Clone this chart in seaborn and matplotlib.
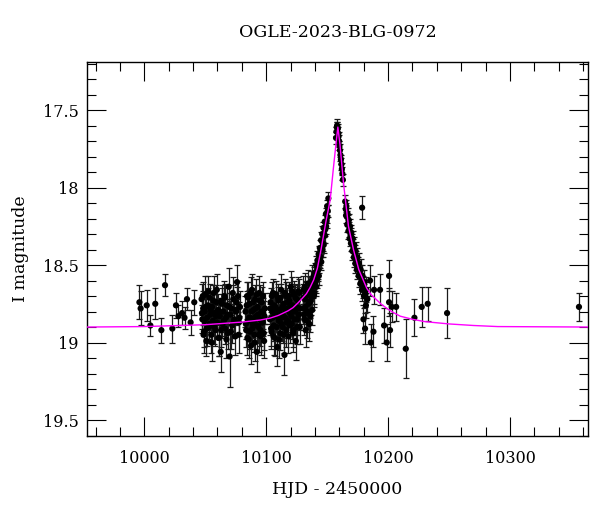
import numpy as np
import pandas as pd
import matplotlib
matplotlib.use("Agg")
import matplotlib.pyplot as plt
import seaborn as sns

title = "OGLE-2023-BLG-0972"
xlabel = "HJD - 2450000"
ylabel = "I magnitude"
xticks = [10000, 10100, 10200, 10300]
yticks = [17.5, 18.0, 18.5, 19.0, 19.5]
ytick_labels = ["17.5", "18", "18.5", "19", "19.5"]

# early sparse baseline
x_early = [9996.0, 9997.0, 10002.0, 10005.0, 10009.0, 10014.0, 10017.0, 10023.0,
           10026.0, 10028.0, 10031.0, 10033.0, 10035.0, 10038.0, 10041.0]
m_early = [18.74, 18.78, 18.76, 18.89, 18.75, 18.92, 18.63, 18.91,
           18.76, 18.83, 18.81, 18.84, 18.72, 18.87, 18.74]
e_early = [0.11, 0.11, 0.10, 0.07, 0.10, 0.08, 0.07, 0.09,
           0.08, 0.07, 0.08, 0.07, 0.07, 0.08, 0.08]

# dense baseline cluster A
x_a = [10047.0, 10047.6, 10048.3, 10048.9, 10049.6, 10050.2, 10050.9, 10051.5, 10052.2, 10052.9,
       10053.6, 10054.2, 10054.9, 10055.6, 10056.3, 10057.0, 10057.7, 10058.4, 10059.1, 10059.8,
       10060.5, 10061.2, 10062.0, 10062.7, 10063.4, 10064.1, 10064.8, 10065.6, 10066.3, 10067.0,
       10067.8, 10068.5, 10069.3, 10070.0, 10070.7, 10071.5, 10072.2, 10073.0, 10073.8, 10074.5,
       10075.3, 10076.1, 10076.9, 10077.7, 10078.5,
       10047.3, 10048.0, 10048.6, 10049.3, 10050.5, 10051.2, 10052.5, 10053.3, 10054.5, 10055.3,
       10056.7, 10057.4, 10058.8, 10059.5, 10060.9, 10061.6, 10063.0, 10063.8, 10065.2, 10066.0,
       10067.4, 10068.2, 10069.7, 10071.1, 10072.6, 10073.4, 10074.9, 10075.7, 10077.3, 10078.1]
m_a = [18.72, 18.85, 18.78, 18.93, 18.80, 18.69, 18.99, 18.84, 18.76, 18.90,
       18.71, 18.82, 18.95, 18.77, 18.86, 18.68, 18.81, 18.92, 18.74, 18.87,
       18.79, 18.97, 18.83, 19.06, 18.73, 18.88, 18.80, 18.70, 18.91, 18.84,
       18.76, 18.94, 18.64, 19.09, 18.82, 18.78, 18.89, 18.72, 18.85, 18.96,
       18.80, 18.61, 18.70, 18.87, 18.77,
       18.81, 18.70, 18.95, 18.86, 18.77, 18.91, 18.67, 18.88, 18.79, 19.00,
       18.73, 18.90, 18.83, 18.66, 18.97, 18.80, 18.92, 18.75, 18.86, 18.71,
       18.98, 18.82, 18.77, 18.93, 18.68, 18.87, 18.79, 18.74, 18.95, 18.84]
e_a = [0.10, 0.09, 0.11, 0.10, 0.08, 0.12, 0.10, 0.09, 0.11, 0.10,
       0.09, 0.10, 0.12, 0.08, 0.10, 0.11, 0.09, 0.10, 0.11, 0.09,
       0.10, 0.12, 0.09, 0.13, 0.10, 0.09, 0.11, 0.10, 0.10, 0.09,
       0.11, 0.10, 0.12, 0.20, 0.09, 0.10, 0.11, 0.09, 0.10, 0.12,
       0.09, 0.11, 0.10, 0.09, 0.10,
       0.10, 0.09, 0.12, 0.10, 0.09, 0.11, 0.10, 0.10, 0.09, 0.12,
       0.10, 0.11, 0.09, 0.10, 0.12, 0.09, 0.11, 0.10, 0.10, 0.09,
       0.12, 0.10, 0.09, 0.11, 0.10, 0.10, 0.09, 0.10, 0.12, 0.10]

# cluster B
x_b = [10083.0, 10083.6, 10084.3, 10085.0, 10085.6, 10086.3, 10087.0, 10087.6, 10088.3, 10089.0,
       10089.6, 10090.3, 10091.0, 10091.6, 10092.3, 10093.0, 10093.6, 10094.3, 10095.0, 10095.6,
       10096.3, 10097.0, 10097.6, 10098.3, 10099.0,
       10083.3, 10084.0, 10084.6, 10085.3, 10086.0, 10086.6, 10087.3, 10088.0, 10088.6, 10089.3,
       10090.0, 10090.6, 10091.3, 10092.0, 10092.6, 10093.3, 10094.0, 10094.6, 10095.3, 10096.0,
       10096.6, 10097.3, 10098.0, 10098.6]
m_b = [18.80, 18.92, 18.70, 18.86, 18.98, 18.75, 18.84, 19.02, 18.66, 18.88,
       18.79, 18.95, 18.72, 18.83, 19.06, 18.77, 18.90, 18.68, 18.85, 18.96,
       18.74, 18.87, 18.81, 18.99, 18.78,
       18.88, 18.76, 18.97, 18.71, 18.84, 18.93, 18.68, 18.80, 18.91, 18.74,
       18.86, 19.00, 18.78, 18.69, 18.89, 18.82, 18.95, 18.73, 18.92, 18.80,
       18.87, 18.70, 18.94, 18.83]
e_b = [0.10, 0.11, 0.09, 0.10, 0.12, 0.09, 0.10, 0.12, 0.10, 0.09,
       0.10, 0.11, 0.09, 0.10, 0.13, 0.09, 0.10, 0.11, 0.09, 0.12,
       0.10, 0.09, 0.10, 0.11, 0.10,
       0.10, 0.09, 0.11, 0.10, 0.09, 0.11, 0.10, 0.09, 0.10, 0.09,
       0.10, 0.12, 0.09, 0.10, 0.11, 0.09, 0.11, 0.10, 0.10, 0.09,
       0.10, 0.09, 0.11, 0.10]

# cluster C
x_c = [10103.0, 10103.6, 10104.3, 10105.0, 10105.6, 10106.3, 10107.0, 10107.6, 10108.3, 10109.0,
       10109.6, 10110.3, 10111.0, 10111.6, 10112.3, 10113.0, 10113.6, 10114.3, 10115.0, 10115.6,
       10116.3, 10117.0, 10117.6, 10118.3, 10119.0, 10119.6, 10120.3, 10121.0, 10121.6, 10122.3,
       10123.0, 10123.6, 10124.3, 10125.0, 10125.6, 10126.3, 10127.0, 10127.6,
       10103.3, 10104.0, 10104.6, 10105.3, 10106.0, 10106.6, 10107.3, 10108.0, 10108.6, 10109.3,
       10110.0, 10110.6, 10111.3, 10112.0, 10112.6, 10113.3, 10114.0, 10114.6, 10115.3, 10116.0,
       10116.6, 10117.3, 10118.0, 10118.6, 10119.3, 10120.0, 10120.6, 10121.3, 10122.0, 10122.6,
       10123.3, 10124.0, 10124.6, 10125.3, 10126.0, 10126.6, 10127.3]
m_c = [18.85, 18.74, 18.93, 18.80, 18.68, 18.89, 18.97, 18.77, 18.83, 19.03,
       18.71, 18.86, 18.79, 18.94, 18.66, 18.82, 18.90, 18.75, 19.08, 18.84,
       18.70, 18.87, 18.78, 18.96, 18.73, 18.81, 18.64, 18.88, 18.76, 18.92,
       18.69, 18.80, 18.99, 18.72, 18.85, 18.67, 18.78, 18.90,
       18.78, 18.91, 18.70, 18.84, 18.96, 18.76, 18.82, 18.69, 18.90, 18.80,
       18.73, 18.98, 18.85, 18.71, 18.88, 18.77, 18.83, 18.95, 18.68, 18.79,
       18.92, 18.74, 18.86, 18.70, 18.89, 18.76, 18.83, 18.67, 18.94, 18.79,
       18.85, 18.71, 18.77, 18.90, 18.73, 18.82, 18.68]
e_c = [0.10, 0.09, 0.11, 0.10, 0.09, 0.10, 0.12, 0.09, 0.10, 0.12,
       0.09, 0.10, 0.09, 0.11, 0.10, 0.09, 0.10, 0.09, 0.13, 0.10,
       0.09, 0.10, 0.09, 0.11, 0.10, 0.09, 0.10, 0.10, 0.09, 0.11,
       0.09, 0.10, 0.12, 0.09, 0.10, 0.09, 0.10, 0.11,
       0.10, 0.11, 0.09, 0.10, 0.12, 0.09, 0.10, 0.09, 0.11, 0.10,
       0.09, 0.12, 0.10, 0.09, 0.11, 0.09, 0.10, 0.12, 0.09, 0.10,
       0.11, 0.09, 0.10, 0.09, 0.11, 0.10, 0.10, 0.09, 0.12, 0.10,
       0.10, 0.09, 0.10, 0.11, 0.09, 0.10, 0.09]

# cluster D
x_d = [10130.0, 10130.6, 10131.2, 10131.8, 10132.4, 10133.0, 10133.6, 10134.2, 10134.8, 10135.4,
       10136.0, 10136.6, 10137.2, 10137.8,
       10130.3, 10130.9, 10131.5, 10132.1, 10132.7, 10133.3, 10133.9, 10134.5, 10135.1, 10135.7,
       10136.3, 10136.9, 10137.5]
m_d = [18.78, 18.66, 18.85, 18.72, 18.92, 18.69, 18.80, 18.62, 18.75, 18.88,
       18.67, 18.73, 18.60, 18.79,
       18.71, 18.82, 18.64, 18.77, 18.70, 18.86, 18.66, 18.81, 18.69, 18.74,
       18.83, 18.63, 18.70]
e_d = [0.10, 0.09, 0.10, 0.09, 0.11, 0.09, 0.10, 0.09, 0.10, 0.11,
       0.09, 0.09, 0.10, 0.10,
       0.09, 0.10, 0.09, 0.10, 0.09, 0.11, 0.09, 0.10, 0.09, 0.10,
       0.10, 0.09, 0.09]

# rising branch
x_rise = [10138.5, 10139.0, 10139.5, 10140.0, 10140.5, 10141.0, 10141.5, 10142.0, 10142.5, 10143.0,
          10143.5, 10144.0, 10144.5, 10145.0, 10145.5, 10146.0, 10146.5, 10147.0, 10147.5, 10148.0,
          10148.5, 10149.0, 10149.5, 10150.0, 10150.5, 10151.0,
          10139.2, 10140.2, 10141.2, 10142.2, 10143.2, 10144.2, 10145.2, 10146.2, 10147.2, 10148.2,
          10149.2, 10150.2]
m_rise = [18.64, 18.57, 18.68, 18.55, 18.61, 18.50, 18.59, 18.47, 18.53, 18.43,
          18.49, 18.39, 18.45, 18.34, 18.40, 18.30, 18.36, 18.26, 18.31, 18.22,
          18.27, 18.17, 18.22, 18.12, 18.15, 18.07,
          18.70, 18.60, 18.64, 18.54, 18.57, 18.46, 18.48, 18.40, 18.37, 18.31,
          18.25, 18.19]
e_rise = [0.07, 0.06, 0.07, 0.06, 0.07, 0.06, 0.06, 0.06, 0.06, 0.05,
          0.06, 0.05, 0.05, 0.05, 0.05, 0.05, 0.05, 0.04, 0.05, 0.04,
          0.04, 0.04, 0.04, 0.04, 0.04, 0.04,
          0.07, 0.07, 0.06, 0.06, 0.06, 0.06, 0.05, 0.05, 0.05, 0.05,
          0.05, 0.04]

# peak
x_peak = [10157.3, 10157.6, 10157.9, 10158.2, 10158.5, 10158.8, 10159.1, 10159.4, 10159.7, 10160.1,
          10160.5, 10160.9, 10161.3, 10161.7, 10162.1, 10162.5, 10162.9]
m_peak = [17.68, 17.64, 17.61, 17.60, 17.61, 17.62, 17.65, 17.67, 17.70, 17.73,
          17.76, 17.79, 17.82, 17.85, 17.88, 17.91, 17.95]
e_peak = [0.04, 0.03, 0.03, 0.04, 0.03, 0.03, 0.04, 0.03, 0.04, 0.03,
          0.04, 0.04, 0.03, 0.04, 0.04, 0.04, 0.04]

# falling branch
x_fall = [10164.8, 10165.3, 10165.8, 10166.3, 10166.8, 10167.3, 10167.8, 10168.3, 10168.8, 10169.3,
          10169.8, 10170.4, 10171.0, 10171.6, 10172.2, 10172.8, 10173.4, 10174.0, 10174.7, 10175.4,
          10176.1, 10176.8, 10177.5, 10178.2, 10179.0, 10179.8, 10180.6, 10181.4, 10182.2, 10183.0,
          10165.5, 10166.5, 10167.5, 10168.5, 10169.5, 10170.7, 10171.9, 10173.1, 10174.4, 10175.8,
          10177.2, 10178.6, 10180.2, 10181.8]
m_fall = [18.09, 18.14, 18.12, 18.19, 18.17, 18.23, 18.21, 18.27, 18.25, 18.31,
          18.29, 18.35, 18.33, 18.39, 18.37, 18.43, 18.41, 18.47, 18.45, 18.51,
          18.49, 18.56, 18.53, 18.60, 18.57, 18.64, 18.61, 18.69, 18.66, 18.72,
          18.18, 18.24, 18.28, 18.33, 18.36, 18.41, 18.45, 18.49, 18.53, 18.57,
          18.62, 18.66, 18.70, 18.76]
e_fall = [0.04, 0.04, 0.04, 0.04, 0.04, 0.05, 0.04, 0.05, 0.05, 0.05,
          0.05, 0.05, 0.05, 0.06, 0.05, 0.06, 0.06, 0.06, 0.06, 0.06,
          0.07, 0.06, 0.07, 0.07, 0.07, 0.07, 0.08, 0.08, 0.08, 0.08,
          0.05, 0.05, 0.05, 0.05, 0.05, 0.06, 0.06, 0.06, 0.06, 0.07,
          0.07, 0.07, 0.08, 0.08]

# late sparse points
x_late = [10178.7, 10179.8, 10181.1, 10185.2, 10185.8, 10188.0, 10188.5, 10193.4, 10196.7, 10198.9,
          10200.8, 10200.8, 10201.6, 10203.0, 10206.6, 10214.5, 10221.6, 10227.6, 10232.5, 10248.4,
          10356.6]
m_late = [18.13, 18.85, 18.91, 18.60, 19.00, 18.93, 18.66, 18.66, 18.89, 19.00,
          18.57, 18.74, 18.92, 18.77, 18.77, 19.04, 18.84, 18.77, 18.75, 18.81,
          18.77]
e_late = [0.075, 0.09, 0.10, 0.10, 0.12, 0.10, 0.09, 0.10, 0.11, 0.12,
          0.10, 0.09, 0.11, 0.10, 0.09, 0.19, 0.12, 0.13, 0.11, 0.16,
          0.09]

# model curve
model_x = [9953, 10000, 10050, 10080, 10095, 10103, 10110, 10118, 10122, 10126,
           10129, 10133, 10136, 10139, 10142, 10145, 10149, 10152.5, 10155.2, 10157.5,
           10158.8, 10160.5, 10163.4, 10167.5, 10171.6, 10176, 10182.5, 10186, 10190, 10194,
           10199, 10204, 10210, 10220, 10230, 10250, 10270, 10290, 10364]
model_m = [18.900, 18.897, 18.885, 18.868, 18.855, 18.843, 18.825, 18.795, 18.775, 18.745,
           18.72, 18.685, 18.645, 18.595, 18.52, 18.40, 18.22, 18.08, 17.87, 17.70,
           17.61, 17.72, 17.97, 18.25, 18.40, 18.53, 18.65, 18.69, 18.72, 18.75,
           18.78, 18.805, 18.83, 18.85, 18.865, 18.88, 18.89, 18.897, 18.90]

data = pd.DataFrame({
    "hjd": x_early + x_a + x_b + x_c + x_d + x_rise + x_peak + x_fall + x_late,
    "mag": m_early + m_a + m_b + m_c + m_d + m_rise + m_peak + m_fall + m_late,
    "err": e_early + e_a + e_b + e_c + e_d + e_rise + e_peak + e_fall + e_late,
})
model = pd.DataFrame({"hjd": model_x, "mag": model_m})

sns.set_theme(style="ticks")
plt.rcParams["font.family"] = ["DejaVu Serif"]
for key in ["text.color", "axes.labelcolor", "xtick.color", "ytick.color", "axes.edgecolor"]:
    plt.rcParams[key] = "black"

fig = plt.figure(figsize=(6.0, 5.12), dpi=100)
ax = fig.add_axes([87 / 600, 1 - 436 / 512, (588 - 87) / 600, (436 - 62) / 512])

ax.errorbar(data["hjd"], data["mag"], yerr=data["err"], fmt="none",
            ecolor="#1a1a1a", elinewidth=0.9, capsize=2.3, capthick=0.9, zorder=2)
sns.scatterplot(data=data, x="hjd", y="mag", ax=ax, color="black", s=20,
                edgecolor="none", zorder=3, legend=False)
sns.lineplot(data=model, x="hjd", y="mag", ax=ax, color="#ff00ff", lw=1.0,
             zorder=4, sort=True, estimator=None)

ax.set_xlim(9953, 10364)
ax.set_ylim(19.603, 17.19)
ax.set_xticks(xticks)
ax.set_xticks(np.arange(9960, 10364, 20), minor=True)
ax.set_yticks(yticks)
ax.set_yticklabels(ytick_labels)
ax.set_yticks(np.arange(17.2, 19.61, 0.1), minor=True)

ax.tick_params(which="both", direction="in", top=True, right=True, colors="black",
               labelsize=11.5, width=0.8)
ax.tick_params(which="major", length=13.5)
ax.tick_params(which="minor", length=6.8)
ax.tick_params(axis="x", which="major", pad=10)
ax.tick_params(axis="y", which="major", pad=6)
for sp in ax.spines.values():
    sp.set_linewidth(1.0)
    sp.set_color("black")

ax.set_xlabel(xlabel, fontsize=12.5, labelpad=10, color="black")
ax.set_ylabel(ylabel, fontsize=12.5, labelpad=10, color="black")
ax.set_title(title, fontsize=12.5, pad=18, color="black")

fig.savefig("out.png", dpi=100, facecolor="white")
